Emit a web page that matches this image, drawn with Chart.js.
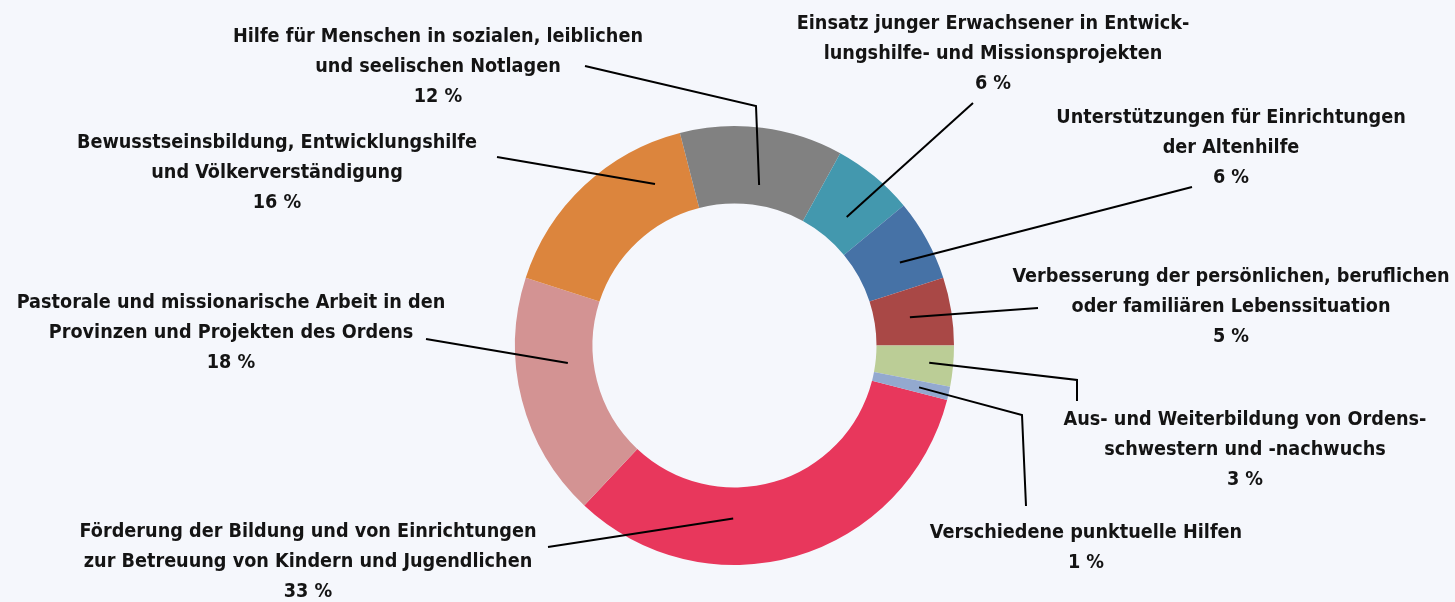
<!DOCTYPE html>
<html>
<head>
<meta charset="utf-8">
<script src="https://cdn.jsdelivr.net/npm/chart.js@4.4.1/dist/chart.umd.min.js"></script>
<style>
  html, body { margin: 0; padding: 0; background: #f5f7fc; }
  #wrap { width: 1455px; height: 602px; position: relative; }
</style>
</head>
<body>
<div id="wrap"><canvas id="c" width="1455" height="602"></canvas></div>
<script>
// ---- data ----
const categories = [
  ["Förderung der Bildung und von Einrichtungen", "zur Betreuung von Kindern und Jugendlichen"],
  ["Pastorale und missionarische Arbeit in den", "Provinzen und Projekten des Ordens"],
  ["Bewusstseinsbildung, Entwicklungshilfe", "und Völkerverständigung"],
  ["Hilfe für Menschen in sozialen, leiblichen", "und seelischen Notlagen"],
  ["Einsatz junger Erwachsener in Entwick-", "lungshilfe- und Missionsprojekten"],
  ["Unterstützungen für Einrichtungen", "der Altenhilfe"],
  ["Verbesserung der persönlichen, beruflichen", "oder familiären Lebenssituation"],
  ["Aus- und Weiterbildung von Ordens-", "schwestern und -nachwuchs"],
  ["Verschiedene punktuelle Hilfen"]
];
const values = [33, 18, 16, 12, 6, 6, 5, 3, 1];
const valueLabels = ["33 %", "18 %", "16 %", "12 %", "6 %", "6 %", "5 %", "3 %", "1 %"];

// ---- styles / layout (not data) ----
const colors = ["#e8375c", "#d39393", "#dc853d", "#818181", "#4398ae", "#4672a6", "#a94846", "#bbcd96", "#93a9cf"];
// label block: centre x, first line y (centre)
const labelPos = [
  {x: 308, y: 532}, {x: 231, y: 303}, {x: 277, y: 143}, {x: 438, y: 37},
  {x: 993, y: 24}, {x: 1231, y: 118}, {x: 1231, y: 277}, {x: 1245, y: 420}, {x: 1086, y: 533}
];
// anchor inside segment: t = fraction along arc, r = fraction across ring
const anchors = [
  {t: 0.64, r: 0.40}, {t: 0.63, r: 0.33}, {t: 0.795, r: 0.49}, {t: 0.535, r: 0.263},
  {t: 0.57, r: 0.37}, {t: 0.60, r: 0.555}, {t: 0.49, r: 0.46}, {t: 0.47, r: 0.69}, {t: 0.55, r: 0.61}
];
// leader line start (near label) and optional elbow
const leaders = [
  {from: [548, 547]},
  {from: [426, 339]},
  {from: [497, 157]},
  {from: [585, 66], elbow: [756, 106]},
  {from: [973, 103]},
  {from: [1192, 187]},
  {from: [1038, 308]},
  {from: [1077, 401], elbow: [1077, 380]},
  {from: [1026, 506], elbow: [1022, 415]}
];

const FONT_FAMILY = "'DejaVu Sans Condensed', 'Liberation Sans Narrow', 'Open Sans', sans-serif";
const FONT_SIZE = 20;
const LINE_H = 30;

const labelPlugin = {
  id: 'labels',
  afterDatasetsDraw(chart) {
    const ctx = chart.ctx;
    const meta = chart.getDatasetMeta(0);
    ctx.save();
    ctx.font = `bold ${FONT_SIZE}px ${FONT_FAMILY}`;
    // horizontal compression to mimic condensed face
    const refW = ctx.measureText("Hilfe für Menschen in sozialen, leiblichen").width;
    const sx = 410 / refW;
    meta.data.forEach((arc, i) => {
      const p = arc.getProps(['x', 'y', 'startAngle', 'endAngle', 'innerRadius', 'outerRadius'], true);
      const a = p.startAngle + (p.endAngle - p.startAngle) * anchors[i].t;
      const rr = p.innerRadius + (p.outerRadius - p.innerRadius) * anchors[i].r;
      const ax = p.x + Math.cos(a) * rr;
      const ay = p.y + Math.sin(a) * rr;
      const L = leaders[i];
      ctx.beginPath();
      ctx.strokeStyle = '#000';
      ctx.lineWidth = 2;
      ctx.lineJoin = 'miter';
      ctx.lineCap = 'butt';
      ctx.moveTo(L.from[0], L.from[1]);
      if (L.elbow) ctx.lineTo(L.elbow[0], L.elbow[1]);
      ctx.lineTo(ax, ay);
      ctx.stroke();

      const lines = categories[i].concat([valueLabels[i]]);
      const pos = labelPos[i];
      ctx.fillStyle = '#141414';
      ctx.textAlign = 'center';
      ctx.textBaseline = 'middle';
      lines.forEach((ln, k) => {
        ctx.save();
        ctx.translate(pos.x, pos.y + k * LINE_H);
        ctx.scale(sx, 1);
        ctx.fillText(ln, 0, 0);
        ctx.restore();
      });
    });
    ctx.restore();
  }
};

new Chart(document.getElementById('c'), {
  type: 'doughnut',
  data: {
    labels: categories.map(c => c.join(' ')),
    datasets: [{
      data: values,
      backgroundColor: colors,
      borderWidth: 0
    }]
  },
  options: {
    responsive: false,
    animation: false,
    rotation: 104.4,
    radius: 219.5,
    cutout: 142,
    layout: { padding: { left: 515, right: 501, top: 126, bottom: 37 } },
    plugins: { legend: { display: false }, tooltip: { enabled: false } }
  },
  plugins: [labelPlugin]
});
</script>
</body>
</html>
